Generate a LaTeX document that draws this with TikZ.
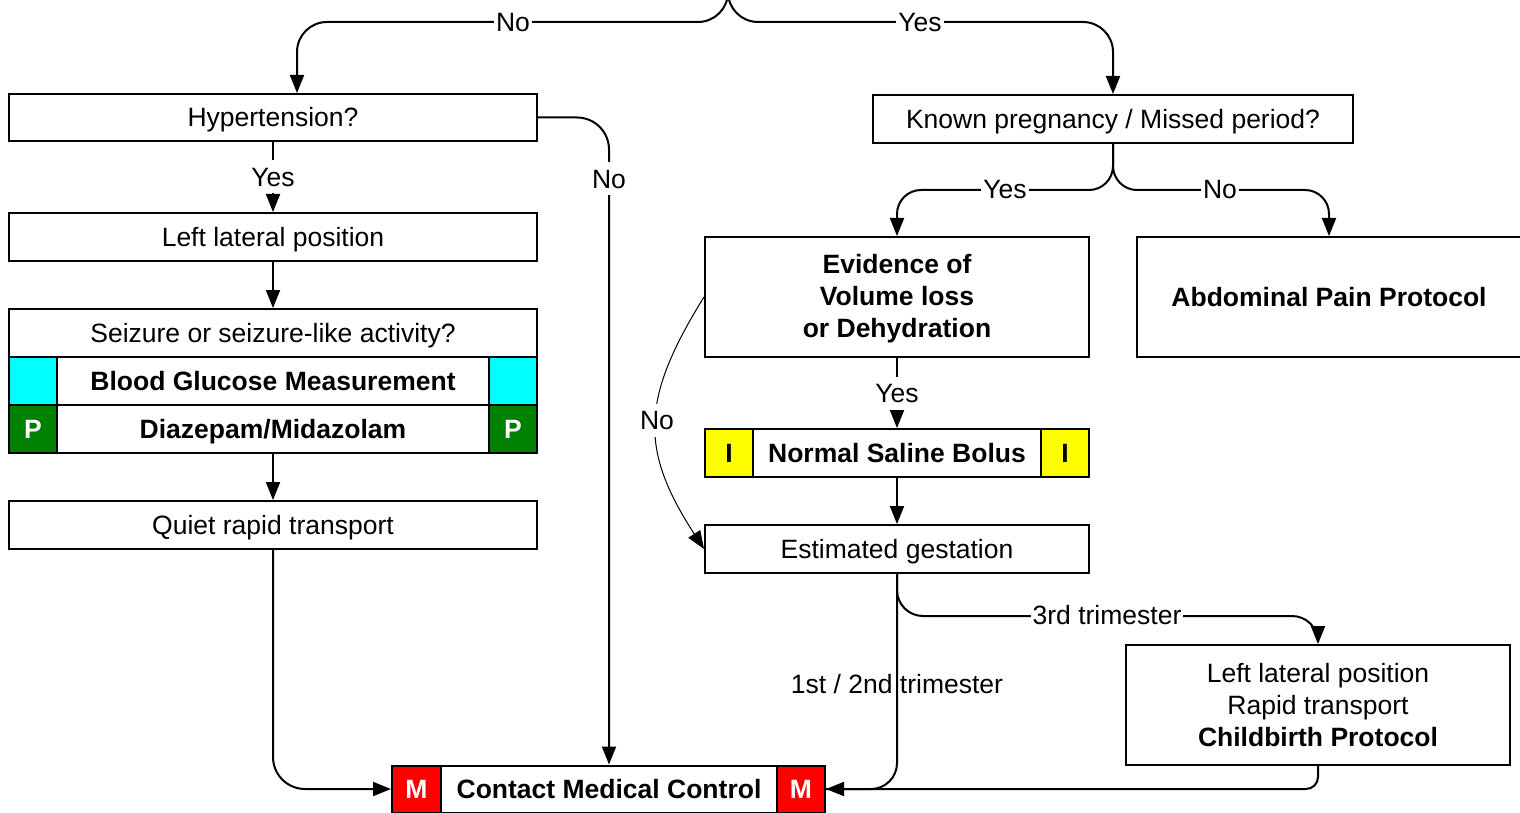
\documentclass[tikz,border=0pt]{standalone}
\usepackage{fontspec}
\setmainfont{Liberation Sans}
\usetikzlibrary{arrows.meta}
\newcommand\myfs{\fontsize{26.5}{32}\selectfont}
\definecolor{cyanbox}{RGB}{0,255,255}
\definecolor{greenbox}{RGB}{0,128,0}
\definecolor{redbox}{RGB}{255,0,0}
\definecolor{yellowbox}{RGB}{255,255,0}
\tikzset{
  box/.style={draw, line width=2pt, fill=white, inner sep=0pt, align=center, font=\myfs},
  oneline/.style={text height=24pt, text depth=5pt},
  boldbox/.style={box, font=\myfs\bfseries},
  tag/.style={box, oneline, minimum width=48pt, minimum height=48pt, font=\myfs\bfseries},
  conn/.style={line width=2pt},
  arr/.style={line width=2pt, -{Triangle[length=18pt,width=14pt]}},
  thinarr/.style={line width=1pt, -{Triangle[length=18pt,width=14pt]}},
  lbl/.style={fill=white, inner sep=2pt, font=\myfs, oneline},
  nolbl/.style={inner sep=2pt, font=\myfs, oneline}
}
\begin{document}
\begin{tikzpicture}[x=1pt,y=-1pt]
\useasboundingbox (0,0) rectangle (1520,813);
% left column
\node[box, oneline, minimum width=528pt, minimum height=47pt] (hyp) at (273,117.5) {Hypertension?};
\node[box, oneline, minimum width=528pt, minimum height=48pt] (llp) at (273,237) {Left lateral position};
\node[box, oneline, minimum width=528pt, minimum height=48pt] (sz) at (273,333) {Seizure or seizure-like activity?};
\node[tag, fill=cyanbox] (bgL) at (33,381) {};
\node[boldbox, oneline, minimum width=432pt, minimum height=48pt] (bg) at (273,381) {Blood Glucose Measurement};
\node[tag, fill=cyanbox] (bgR) at (513,381) {};
\node[tag, fill=greenbox, text=white] (dzL) at (33,429) {P};
\node[boldbox, oneline, minimum width=432pt, minimum height=48pt] (dz) at (273,429) {Diazepam/Midazolam};
\node[tag, fill=greenbox, text=white] (dzR) at (513,429) {P};
\node[box, oneline, minimum width=528pt, minimum height=48pt] (qrt) at (273,525) {Quiet rapid transport};
% contact medical control
\node[tag, fill=redbox, text=white, minimum width=49pt, minimum height=47pt] (cmcL) at (416.5,789) {M};
\node[boldbox, oneline, minimum width=336pt, minimum height=47pt] (cmc) at (609,789) {Contact Medical Control};
\node[tag, fill=redbox, text=white, minimum height=47pt] (cmcR) at (801,789) {M};
% right column
\node[box, oneline, minimum width=480pt, minimum height=48pt] (kp) at (1113,119) {Known pregnancy / Missed period?};
\node[boldbox, minimum width=384pt, minimum height=120pt] (evid) at (897,297) {\rule{0pt}{22pt}Evidence of\\Volume loss\\or Dehydration};
\node[boldbox, oneline, minimum width=384pt, minimum height=120pt] (abd) at (1329,297) {Abdominal Pain Protocol};
\node[tag, fill=yellowbox] (nsbL) at (729,453) {I};
\node[boldbox, oneline, minimum width=288pt, minimum height=48pt] (nsb) at (897,453) {Normal Saline Bolus};
\node[tag, fill=yellowbox] (nsbR) at (1065,453) {I};
\node[box, oneline, minimum width=384pt, minimum height=48pt] (eg) at (897,549) {Estimated gestation};
\node[box, minimum width=384pt, minimum height=120pt] (cb) at (1318,705) {Left lateral position\\Rapid transport\\\textbf{Childbirth Protocol}};
% connectors
\coordinate (topin) at (728,-20);
\draw[arr, rounded corners=30pt] (topin) -- ++(0,42) -| ([xshift=24pt]hyp.north);
\draw[arr, rounded corners=30pt] (topin) -- ++(0,42) -| (kp.north);
\node[lbl] (lno1) at (513,22) {No};
\node[lbl] (lyes1) at (920,22) {Yes};

\draw[arr] (hyp.south) -- node[lbl] (lyes2) {Yes} (llp.north);
\draw[arr] (llp.south) -- (sz.north);
\draw[arr] (dz.south) -- (qrt.north);
\draw[arr, rounded corners=32pt] (qrt.south) |- (cmcL.west);
\draw[arr, rounded corners=32pt] (hyp.east) -| (cmc.north);
\node[lbl] (lno2) at (609,179) {No};

\draw[arr, rounded corners=24pt] (kp.south) -- ++(0,46) -| (evid.north);
\draw[arr, rounded corners=24pt] (kp.south) -- ++(0,46) -| (abd.north);
\node[lbl] (lyes3) at (1005,189) {Yes};
\node[lbl] (lno3) at (1220,189) {No};

\draw[arr] (evid.south) -- node[lbl] (lyes4) {Yes} (nsb.north);
\draw[arr] (nsb.south) -- (eg.north);
\draw[thinarr] (evid.west) .. controls (640,400) and (640,450) .. (eg.west);
\node[lbl] (lno4) at (657,420) {No};

\draw[arr, rounded corners=26pt] (eg.south) -- ++(0,42) -| (cb.north);
\node[lbl] (l3rd) at (1107,615) {3rd trimester};
\draw[conn, rounded corners=12pt] (cb.south) |- (cmcR.east);
\draw[arr, rounded corners=26pt] (eg.south) |- (cmcR.east);
\node[nolbl] (l12) at (897,684) {1st / 2nd trimester};
\end{tikzpicture}
\end{document}
